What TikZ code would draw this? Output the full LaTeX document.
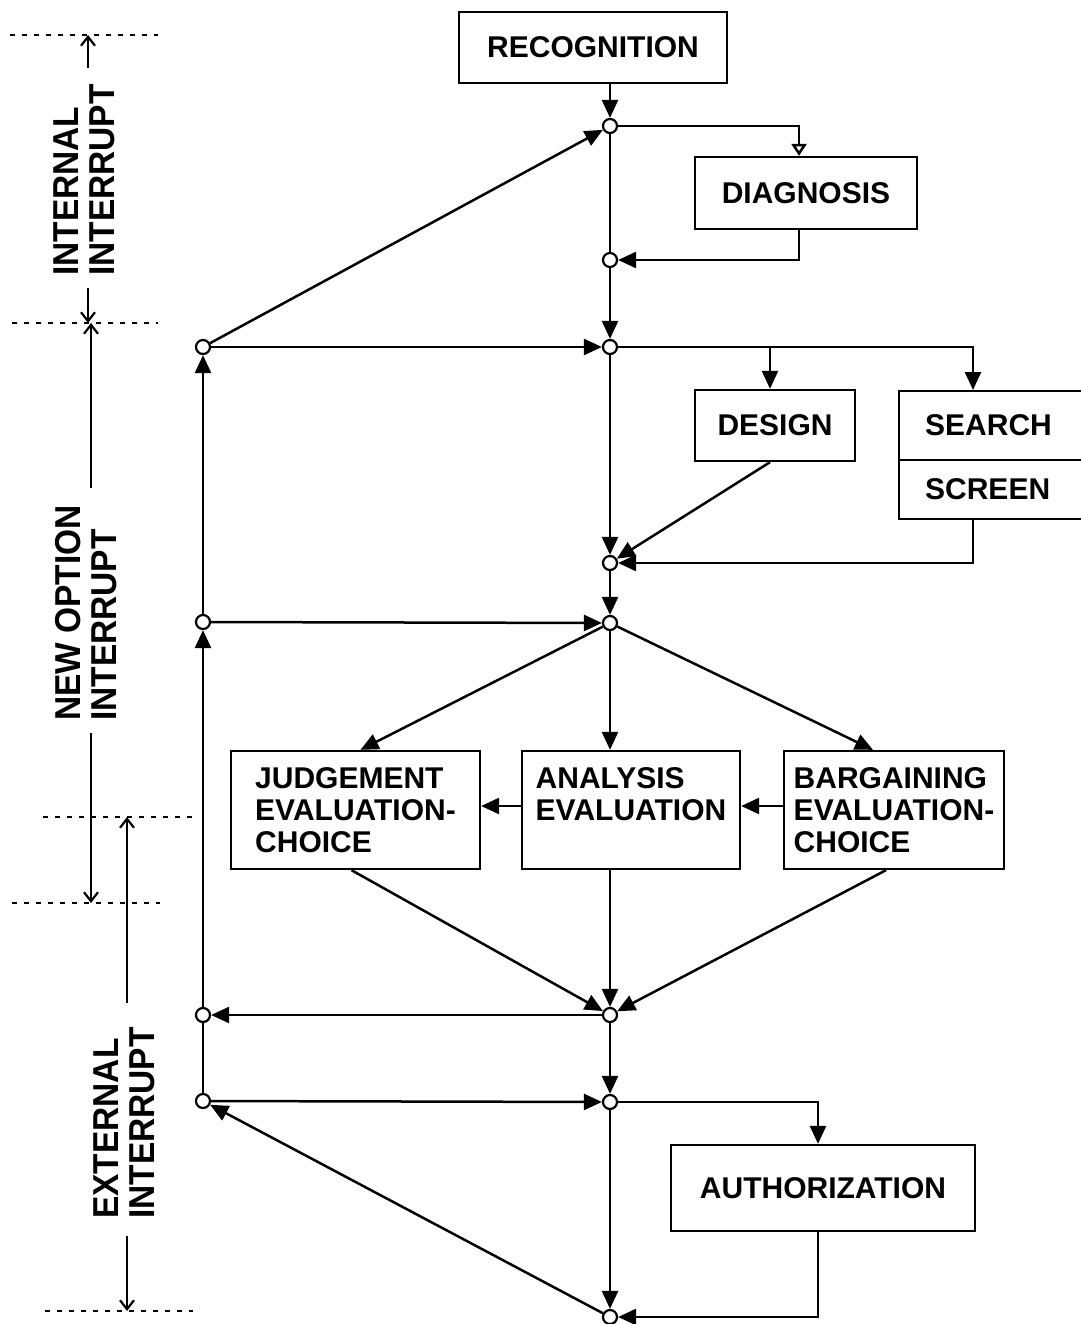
\documentclass[tikz,border=0pt]{standalone}
\usepackage{fontspec}
\setmainfont{Liberation Sans}
\newfontfamily\sidefont{Liberation Sans}[FakeStretch=0.93]
\usetikzlibrary{arrows.meta}

\begin{document}
\begin{tikzpicture}[x=1pt,y=-1pt,
  line width=2.5pt,
  >={Triangle[length=18pt,width=16pt]},
  box/.style={draw, line width=2.3pt, inner sep=0pt,
    font=\fontsize{30}{32}\selectfont\bfseries, align=center},
  junction/.style={circle, draw, fill=white, line width=2.2pt,
    minimum size=14pt, inner sep=0pt},
  openhead/.style={-{Triangle[open,length=12pt,width=15pt]}},
  guide/.style={line width=1.8pt, dash pattern=on 5pt off 7pt},
  span/.style={line width=2.2pt, -{Straight Barb[length=9pt,width=14pt]}},
  sidetext/.style={rotate=90, align=left, inner sep=0pt,
    font=\sidefont\fontsize{36}{36}\selectfont\bfseries}
]
\useasboundingbox (0,0) rectangle (1080,1324);

% process boxes
\node[box, minimum width=268pt, minimum height=71pt] (rec) at (593,47.5) {RECOGNITION};
\node[box, minimum width=222pt, minimum height=72pt] (diag) at (806,193) {DIAGNOSIS};
\node[box, minimum width=160pt, minimum height=71pt] (design) at (775,425.5) {DESIGN};
\node[box, anchor=north west, minimum height=69pt, text width=150pt,
      inner xsep=26pt, align=left] (search) at (898,390) {SEARCH};
\node[box, anchor=north west, minimum height=59pt, text width=150pt,
      inner xsep=26pt, align=left] (screen) at (898,459) {SCREEN};
\node[box, minimum width=249pt, minimum height=118pt, align=left] (judge) at (355.5,810)
      {JUDGEMENT\\EVALUATION-\\CHOICE};
\node[box, minimum width=218pt, minimum height=118pt, align=left] (anal) at (631,810)
      {ANALYSIS\\EVALUATION\\\mbox{}};
\node[box, minimum width=220pt, minimum height=118pt, align=left] (barg) at (894,810)
      {BARGAINING\\EVALUATION-\\CHOICE};
\node[box, minimum width=304pt, minimum height=86pt] (auth) at (823,1188) {AUTHORIZATION};

% junction points on the main line
\node[junction] (c1) at (610,126) {};
\node[junction] (c2) at (610,260) {};
\node[junction] (c3) at (610,347) {};
\node[junction] (c4) at (610,563) {};
\node[junction] (c5) at (610,623) {};
\node[junction] (c6) at (610,1015) {};
\node[junction] (c7) at (610,1102) {};
\node[junction] (c8) at (610,1317) {};
% junction points on the interrupt line
\node[junction] (l1) at (203,347) {};
\node[junction] (l2) at (203,622) {};
\node[junction] (l3) at (203,1015) {};
\node[junction] (l4) at (203,1101) {};

% recognition and diagnosis
\draw[->] (rec.south -| c1) -- (c1);
\draw (c1) -- (c2);
\draw[openhead] (c1) -| ([xshift=-7pt]diag.north);
\draw[->] ([xshift=-7pt]diag.south) |- (c2);
\draw[->] (c2) -- (c3);
\draw[->] (l1) -- (c1);
\draw[->] (l1) -- (c3);

% design, search and screen
\draw[->] (c3) -| ([xshift=-5pt]design.north);
\draw[->] (c3) -| ([xshift=75pt]search.north west);
\draw[->] (c3) -- (c4);
\draw[->] ([xshift=-5pt]design.south) -- (c4);
\draw[->] ([xshift=75pt]screen.south west) |- (c4);
\draw[->] (c4) -- (c5);
\draw[->] (l2) -- (l1);
\draw[->] (l2) -- (c5);

% evaluation and choice
\draw[->] (c5) -- ([xshift=5pt]judge.north);
\draw[->] (c5) -- (c5 |- anal.north);
\draw[->] (c5) -- ([xshift=-21pt]barg.north);
\draw[->] ([yshift=4pt]anal.west) -- ([yshift=4pt]judge.east);
\draw[->] ([yshift=4pt]barg.west) -- ([yshift=4pt]anal.east);
\draw[->] ([xshift=-4pt]judge.south) -- (c6);
\draw[->] (c5 |- anal.south) -- (c6);
\draw[->] ([xshift=-8pt]barg.south) -- (c6);
\draw[->] (c6) -- (l3);
\draw[->] (l3) -- (l2);
\draw (l3) -- (l4);

% authorization
\draw[->] (c6) -- (c7);
\draw[->] (l4) -- (c7);
\draw[->] (c7) -| ([xshift=-5pt]auth.north);
\draw[->] ([xshift=-5pt]auth.south) |- (c8);
\draw[->] (c7) -- (c8);
\draw[->] (c8) -- (l4);

% interrupt ranges
\draw[guide] (10,35) -- (158,35);
\draw[guide] (12,323) -- (158,323);
\draw[guide] (43,817) -- (192,817);
\draw[guide] (12,903) -- (160,903);
\draw[guide] (45,1311) -- (193,1311);

\node[sidetext] (intl) at (84,180) {INTERNAL\\INTERRUPT};
\coordinate (ia) at (88,68);  \coordinate (iat) at (88,35);
\coordinate (ib) at (88,288); \coordinate (ibt) at (88,323);
\draw[span] (ia) -- (iat);
\draw[span] (ib) -- (ibt);

\node[sidetext] (nopt) at (86,613) {NEW OPTION\\INTERRUPT};
\coordinate (na) at (91,488); \coordinate (nat) at (91,323);
\coordinate (nb) at (91,733); \coordinate (nbt) at (91,903);
\draw[span] (na) -- (nat);
\draw[span] (nb) -- (nbt);

\node[sidetext] (extl) at (124,1123) {EXTERNAL\\INTERRUPT};
\coordinate (ea) at (127,1003); \coordinate (eat) at (127,817);
\coordinate (eb) at (127,1236); \coordinate (ebt) at (127,1311);
\draw[span] (ea) -- (eat);
\draw[span] (eb) -- (ebt);
\end{tikzpicture}
\end{document}
